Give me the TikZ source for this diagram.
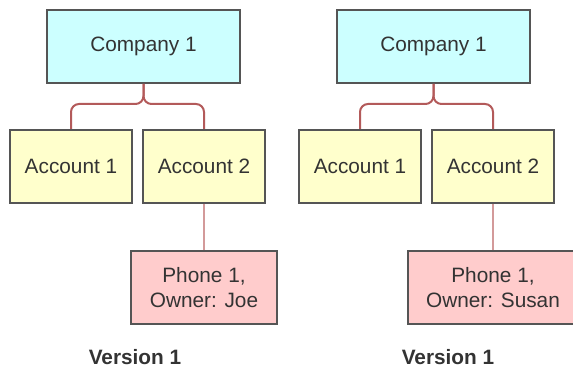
\documentclass[tikz,border=0pt]{standalone}
\usepackage{fontspec}
\setmainfont{Liberation Sans}
\usepackage{tikz}
\usetikzlibrary{calc}
\definecolor{boxline}{HTML}{555555}
\definecolor{companyfill}{HTML}{CCFFFF}
\definecolor{accountfill}{HTML}{FFFFCC}
\definecolor{phonefill}{HTML}{FFCCCC}
\definecolor{linkred}{HTML}{B35A5A}
\definecolor{linkpink}{HTML}{D39A9A}
\definecolor{textgray}{HTML}{333333}
\tikzset{
  box/.style={draw=boxline, line width=1pt, text=textgray, inner sep=0pt,
    font=\fontsize{10.4}{12.5}\selectfont, align=center},
  companybox/.style={box, fill=companyfill, minimum width=96.5pt, minimum height=36.5pt},
  accountbox/.style={box, fill=accountfill, minimum width=61pt, minimum height=36.5pt},
  phonebox/.style={box, fill=phonefill, minimum width=73pt, minimum height=36.5pt},
  link/.style={draw=linkred, line width=1pt, rounded corners=4pt},
  phonelink/.style={draw=linkpink, line width=1.1pt},
  version/.style={text=textgray, font=\fontsize{10.4}{12.5}\selectfont\bfseries}
}
\begin{document}
\begin{tikzpicture}[x=0.5pt,y=-0.5pt]
\useasboundingbox (0,0) rectangle (573,367);
\clip (0,0) rectangle (573,367);
% left version
\node[companybox] (company1) at (143.5,46.5) {Company 1};
\node[accountbox] (account1) at (71,166.5) {Account 1};
\node[accountbox] (account2) at (204,166.5) {Account 2};
\node[phonebox] (phone1) at (204,287.5) {Phone 1,\\Owner: Joe};
\node[version] (version1) at (135,357) {Version 1};
\draw[link] (company1.south) |- ($(account1.north)+(0,-25)$) -- (account1.north);
\draw[link] (company1.south) |- ($(account2.north)+(0,-25)$) -- (account2.north);
\draw[phonelink] (account2.south) -- (phone1.north);
% right version
\node[companybox] (company1b) at (433.5,46.5) {Company 1};
\node[accountbox] (account1b) at (360,166.5) {Account 1};
\node[accountbox] (account2b) at (493,166.5) {Account 2};
\node[phonebox, minimum width=85pt] (phone1b) at (493,287.5) {Phone 1,\\Owner: Susan};
\node[version] (version1b) at (448,357) {Version 1};
\draw[link] (company1b.south) |- ($(account1b.north)+(0,-25)$) -- (account1b.north);
\draw[link] (company1b.south) |- ($(account2b.north)+(0,-25)$) -- (account2b.north);
\draw[phonelink] (account2b.south) -- (phone1b.north);
\end{tikzpicture}
\end{document}
